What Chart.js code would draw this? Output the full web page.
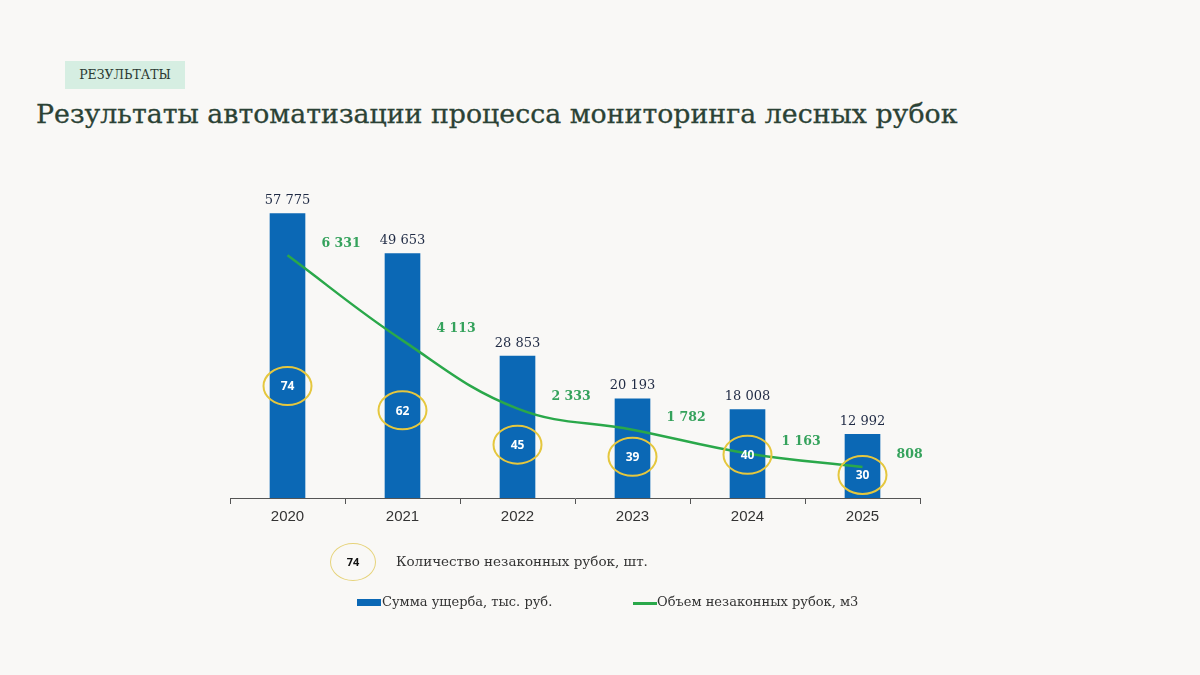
<!DOCTYPE html>
<html lang="ru">
<head>
<meta charset="utf-8">
<script src="https://cdn.jsdelivr.net/npm/chart.js@4"></script>
<style>
  html, body { margin: 0; padding: 0; }
  body { width: 1200px; height: 675px; background: #f9f8f6; position: relative; overflow: hidden; font-family: "DejaVu Serif", serif; }
  .tag { position: absolute; left: 65px; top: 61px; width: 120px; height: 28px; background: #d6eee2; color: #2c3a33; font-size: 12.5px; line-height: 28px; text-align: center; }
  .title { position: absolute; left: 36px; top: 98px; font-size: 26.8px; color: #2b4235; white-space: nowrap; -webkit-text-stroke: 0.3px #2b4235; }
  #wrap { position: absolute; left: 0; top: 0; width: 1200px; height: 675px; }
  .lg { position: absolute; color: #333; font-size: 13px; white-space: nowrap; }
  .ell { position: absolute; left: 330px; top: 543px; width: 44px; height: 36px; border: 1.5px solid #e6d37a; border-radius: 50%; font: bold 11px "Open Sans", sans-serif; color: #111; text-align: center; line-height: 36px; }
</style>
</head>
<body>
<div class="tag">РЕЗУЛЬТАТЫ</div>
<div class="title">Результаты автоматизации процесса мониторинга лесных рубок</div>
<div id="wrap"><canvas id="chart" width="1200" height="675"></canvas></div>

<div class="ell">74</div>
<div class="lg" style="left:396px; top:553px; font-size:13.5px;">Количество незаконных рубок, шт.</div>
<div style="position:absolute; left:357px; top:599px; width:24px; height:7px; background:#0b68b5;"></div>
<div class="lg" style="left:382px; top:594px;">Сумма ущерба, тыс. руб.</div>
<div style="position:absolute; left:633px; top:602px; width:24px; height:2.5px; background:#2aa84a;"></div>
<div class="lg" style="left:657px; top:594px;">Объем незаконных рубок, м3</div>

<script>
// данные с картинки
const years = ["2020", "2021", "2022", "2023", "2024", "2025"];
const damage = [57775, 49653, 28853, 20193, 18008, 12992];   // сумма ущерба, тыс. руб.
const volume = [6331, 4113, 2333, 1782, 1163, 808];          // объем рубок, м3
const cuts = [74, 62, 45, 39, 40, 30];                       // количество рубок, шт.

function fmt(v) {
  return String(v).replace(/\B(?=(\d{3})+(?!\d))/g, " ");
}

// подписи значений и овалы с количеством рубок
const labelsPlugin = {
  id: "labels",
  afterDatasetsDraw(chart) {
    const ctx = chart.ctx;
    ctx.save();

    const bars = chart.getDatasetMeta(0).data;
    ctx.font = "13px 'DejaVu Serif', serif";
    ctx.fillStyle = "#1f2a44";
    ctx.textAlign = "center";
    ctx.textBaseline = "bottom";
    bars.forEach((b, i) => ctx.fillText(fmt(damage[i]), b.x, b.y - 6));

    const pts = chart.getDatasetMeta(1).data;
    ctx.font = "bold 12.5px 'DejaVu Serif', serif";
    ctx.fillStyle = "#35a25c";
    ctx.textAlign = "left";
    ctx.textBaseline = "middle";
    pts.forEach((p, i) => ctx.fillText(fmt(volume[i]), p.x + 34, p.y - 12));

    const circ = chart.getDatasetMeta(2).data;
    circ.forEach((c, i) => {
      ctx.beginPath();
      ctx.ellipse(c.x, c.y, 24, 19, 0, 0, Math.PI * 2);
      ctx.strokeStyle = "#e5c73e";
      ctx.lineWidth = 2;
      ctx.stroke();
      ctx.font = "bold 12px 'Open Sans', sans-serif";
      ctx.fillStyle = "#ffffff";
      ctx.textAlign = "center";
      ctx.fillText(String(cuts[i]), c.x, c.y + 1);
    });
    ctx.restore();
  }
};

new Chart(document.getElementById("chart"), {
  type: "bar",
  data: {
    labels: years,
    datasets: [
      {
        label: "Сумма ущерба, тыс. руб.",
        data: damage,
        backgroundColor: "#0b68b5",
        barPercentage: 0.62,
        categoryPercentage: 0.5,
        yAxisID: "y",
        order: 2,
      },
      {
        type: "line",
        label: "Объем незаконных рубок, м3",
        data: volume,
        borderColor: "#2aa84a",
        borderWidth: 2.5,
        tension: 0.4,
        pointRadius: 0,
        yAxisID: "y2",
        order: 1,
      },
      {
        type: "line",
        label: "Количество незаконных рубок, шт.",
        data: cuts,
        showLine: false,
        pointRadius: 0,
        yAxisID: "y3",
        order: 0,
      },
    ],
  },
  options: {
    responsive: false,
    animation: false,
    layout: { padding: { left: 230, right: 280, top: 153, bottom: 147 } },
    plugins: { legend: { display: false }, tooltip: { enabled: false } },
    scales: {
      x: {
        offset: true,
        grid: { display: true, drawOnChartArea: false, offset: true, tickLength: 6, color: "#555" },
        border: { display: true, color: "#555", width: 1 },
        ticks: { color: "#333", padding: 4, font: { family: "'Liberation Sans', Arial, sans-serif", size: 15 } },
        afterFit(scale) { scale.height = 30; },
      },
      y: { display: false, min: 0, max: 70000 },
      y2: { display: false, min: 0, max: 9000 },
      y3: { display: false, min: 18.6, max: 189.3 },
    },
  },
  plugins: [labelsPlugin],
});
</script>
</body>
</html>
